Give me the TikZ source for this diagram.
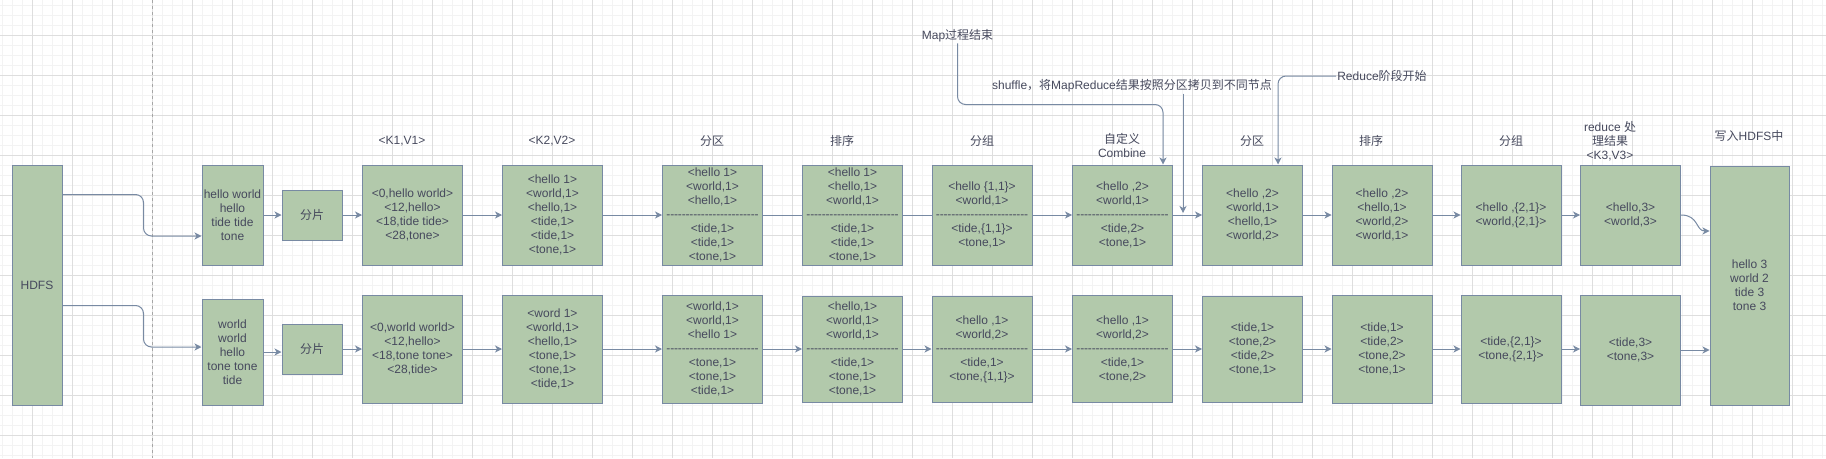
\documentclass[tikz,border=0pt]{standalone}
\usepackage{fontspec}
\setmainfont{Liberation Sans}
\newfontfamily\cjk{Noto Sans CJK SC}
\usepackage{xcolor}
\usepackage{tikz}
\usetikzlibrary{arrows.meta}
\definecolor{boxfill}{HTML}{B2C9AB}
\definecolor{boxline}{HTML}{788AA3}
\definecolor{boxtext}{HTML}{46495D}
\definecolor{gridmajor}{HTML}{DEDEDE}
\definecolor{gridminor}{HTML}{F3F3F3}
\tikzset{
	box/.style={rectangle, draw=boxline, fill=boxfill, text=boxtext, line width=1pt, inner sep=0pt, align=center, minimum width=100pt, font=\fontsize{12}{14}\selectfont},
	lbl/.style={text=boxtext, inner sep=1pt, align=center, font=\fontsize{12}{14}\selectfont},
	conn/.style={draw=boxline, line width=1pt, -{Stealth[length=7pt,width=7pt,inset=2pt]}},
	link/.style={draw=boxline, line width=1pt},
	minorgrid/.style={draw=gridminor, line width=1pt},
	majorgrid/.style={draw=gridmajor, line width=1pt},
	pagebreak/.style={draw=gray!70, line width=1pt, dash pattern=on 3pt off 3pt}
}
\newcommand{\sepline}{\hbox to 92pt{\xleaders\hbox to 3.83pt{\hss-\hss}\hfill}}

\begin{document}
\begin{tikzpicture}[x=1pt,y=-1pt]
		\useasboundingbox (0,0) rectangle (1826,458);
		%Grid
		\foreach \x in {2,12,...,1822} \draw[minorgrid] (\x,0) -- (\x,458);
		\foreach \y in {5,15,...,455} \draw[minorgrid] (0,\y) -- (1826,\y);
		\foreach \x in {32,72,...,1792} \draw[majorgrid] (\x,0) -- (\x,458);
		\foreach \y in {35,75,...,435} \draw[majorgrid] (0,\y) -- (1826,\y);
		\draw[pagebreak] (152.5,0) -- (152.5,458);
		
		%Map side
		\node[box, minimum width=50pt, minimum height=240pt] at (37,285) (hdfs) {HDFS};
		\node[box, minimum width=61pt, minimum height=100pt] at (232.5,215) (in1) {hello world\\hello\\tide tide\\tone};
		\node[box, minimum width=61pt, minimum height=106pt] at (232.5,352) (in2) {world\\world\\hello\\tone tone\\tide};
		\node[box, minimum width=60pt, minimum height=50pt] at (312,215) (split1) {\cjk 分片};
		\node[box, minimum width=60pt, minimum height=50pt] at (312,349) (split2) {\cjk 分片};
		\node[box, minimum height=100pt] at (412.5,215) (kv1a) {<0,hello world>\\<12,hello>\\<18,tide tide>\\<28,tone>};
		\node[box, minimum height=108pt] at (412.5,349) (kv1b) {<0,world world>\\<12,hello>\\<18,tone tone>\\<28,tide>};
		\node[box, minimum height=100pt] at (552.5,215) (kv2a) {<hello 1>\\<world,1>\\<hello,1>\\<tide,1>\\<tide,1>\\<tone,1>};
		\node[box, minimum height=108pt] at (552.5,349) (kv2b) {<word 1>\\<world,1>\\<hello,1>\\<tone,1>\\<tone,1>\\<tide,1>};
		\node[box, minimum height=100pt] at (712.5,215) (partA) {<hello 1>\\<world,1>\\<hello,1>\\\sepline\\<tide,1>\\<tide,1>\\<tone,1>};
		\node[box, minimum height=108pt] at (712.5,349) (partB) {<world,1>\\<world,1>\\<hello 1>\\\sepline\\<tone,1>\\<tone,1>\\<tide,1>};
		\node[box, minimum height=100pt] at (852.5,215) (sortA) {<hello 1>\\<hello,1>\\<world,1>\\\sepline\\<tide,1>\\<tide,1>\\<tone,1>};
		\node[box, minimum height=106pt] at (852.5,349) (sortB) {<hello,1>\\<world,1>\\<world,1>\\\sepline\\<tide,1>\\<tone,1>\\<tone,1>};
		\node[box, minimum height=100pt] at (982,215) (groupA) {<hello \{1,1\}>\\<world,1>\\\sepline\\<tide,\{1,1\}>\\<tone,1>};
		\node[box, minimum height=106pt] at (982,349) (groupB) {<hello ,1>\\<world,2>\\\sepline\\<tide,1>\\<tone,\{1,1\}>};
		\node[box, minimum height=100pt] at (1122.5,215) (combA) {<hello ,2>\\<world,1>\\\sepline\\<tide,2>\\<tone,1>};
		\node[box, minimum height=107pt] at (1122.5,349) (combB) {<hello ,1>\\<world,2>\\\sepline\\<tide,1>\\<tone,2>};
		
		%Reduce side
		\node[box, minimum height=100pt] at (1252.5,215) (rpartA) {<hello ,2>\\<world,1>\\<hello,1>\\<world,2>};
		\node[box, minimum height=106pt] at (1252.5,349) (rpartB) {<tide,1>\\<tone,2>\\<tide,2>\\<tone,1>};
		\node[box, minimum height=100pt] at (1382,215) (rsortA) {<hello ,2>\\<hello,1>\\<world,2>\\<world,1>};
		\node[box, minimum height=108pt] at (1382,349) (rsortB) {<tide,1>\\<tide,2>\\<tone,2>\\<tone,1>};
		\node[box, minimum height=100pt] at (1511,215) (rgroupA) {<hello ,\{2,1\}>\\<world,\{2,1\}>};
		\node[box, minimum height=108pt] at (1511,349) (rgroupB) {<tide,\{2,1\}>\\<tone,\{2,1\}>};
		\node[box, minimum height=100pt] at (1630.5,215) (redA) {<hello,3>\\<world,3>};
		\node[box, minimum height=110pt] at (1630.5,350) (redB) {<tide,3>\\<tone,3>};
		\node[box, minimum width=79pt, minimum height=239pt] at (1749.5,285.5) (out) {hello 3\\world 2\\tide 3\\tone 3};
		
		%Titles
		\node[lbl] at (402,141) (tK1) {<K1,V1>};
		\node[lbl] at (552,141) (tK2) {<K2,V2>};
		\node[lbl] at (712,141) (tPart) {\cjk 分区};
		\node[lbl] at (842,141) (tSort) {\cjk 排序};
		\node[lbl] at (982,141) (tGroup) {\cjk 分组};
		\node[lbl] at (1122,145) (tComb) {{\cjk 自定义}\\Combine};
		\node[lbl] at (1252,141) (tRPart) {\cjk 分区};
		\node[lbl] at (1371,141) (tRSort) {\cjk 排序};
		\node[lbl] at (1511,141) (tRGroup) {\cjk 分组};
		\node[lbl] at (1610,141) (tRed) {reduce {\cjk 处}\\{\cjk 理结果}\\<K3,V3>};
		\node[lbl] at (1749,136) (tOut) {{\cjk 写入}HDFS{\cjk 中}};
		\node[lbl] at (957.5,36) (mapEnd) {Map{\cjk 过程结束}};
		\node[lbl] at (1132,86) (shuffle) {shuffle{\cjk ，将}MapReduce{\cjk 结果按照分区拷贝到不同节点}};
		\node[lbl] at (1382,76) (reduceStart) {Reduce{\cjk 阶段开始}};
		\coordinate (shufEnd) at (1183,213);
		
		%Lines
		\draw[conn, rounded corners=8pt] ([yshift=-30pt]hdfs.north east) -- ++(81,0) |- ([yshift=-21pt]in1.west);
		\draw[conn, rounded corners=8pt] ([yshift=-141pt]hdfs.north east) -- ++(81,0) |- ([yshift=5pt]in2.west);
		\draw[conn] (in1) -- (split1);
		\draw[conn] (in2.east) -- (in2.east -| split2.west);
		\draw[conn] (split1) -- (kv1a);
		\draw[conn] (split2) -- (kv1b);
		\draw[conn] (kv1a) -- (kv2a);
		\draw[conn] (kv1b) -- (kv2b);
		\draw[conn] (kv2a) -- (partA);
		\draw[conn] (kv2b) -- (partB);
		\draw[link] (partA) -- (sortA);
		\draw[conn] (partB) -- (sortB);
		\draw[link] (sortA) -- (groupA);
		\draw[conn] (sortB) -- (groupB);
		\draw[conn] (groupA) -- (combA);
		\draw[conn] (groupB) -- (combB);
		\draw[conn] (combA) -- (rpartA);
		\draw[conn] (combB) -- (rpartB);
		\draw[conn] (rpartA) -- (rsortA);
		\draw[conn] (rpartB) -- (rsortB);
		\draw[conn] (rsortA) -- (rgroupA);
		\draw[conn] (rsortB) -- (rgroupB);
		\draw[conn] (rgroupA) -- (redA);
		\draw[conn] (rgroupB) -- (rgroupB -| redB.west);
		\draw[conn] (redA.east) .. controls +(18,0) and +(-14,0) .. ([yshift=54.5pt]out.west);
		\draw[conn] (redB) -- (redB -| out.west);
		
		\draw[conn, rounded corners=8pt] (mapEnd.south) |- ([xshift=40.5pt,yshift=60pt]combA.north) -- ([xshift=40.5pt]combA.north);
		\draw[conn] (shuffle.south -| shufEnd) -- (shufEnd);
		\draw[conn, rounded corners=8pt] (reduceStart.west) -| ([xshift=25.5pt]rpartA.north);
		
	\end{tikzpicture}
\end{document}
